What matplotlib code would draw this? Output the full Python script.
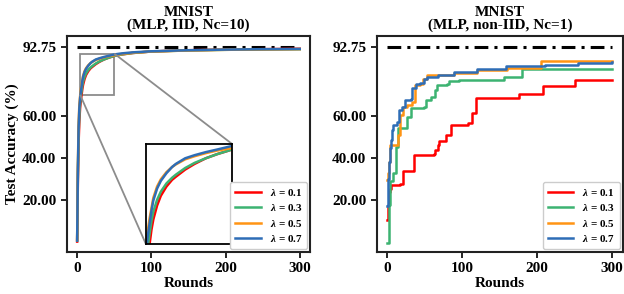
import numpy as np
import matplotlib
matplotlib.use("Agg")
from matplotlib import pyplot as plt
from mpl_toolkits.axes_grid1.inset_locator import mark_inset

plt.rcParams['font.family'] = ['Liberation Serif', 'DejaVu Serif']
plt.rcParams['font.weight'] = 'bold'
plt.rcParams['mathtext.fontset'] = 'custom'
plt.rcParams['mathtext.it'] = 'Liberation Serif:italic:bold'
plt.rcParams['mathtext.rm'] = 'Liberation Serif:bold'

# ---------------- data ----------------
lams = ['0.1', '0.3', '0.5', '0.7']
colors = ['#FF0000', '#3CB371', '#FF9414', '#2E6DB6']
target_acc = 92.75

# left: IID, Nc=10 (smooth curves)
iid_rounds = [0, 1, 2, 3, 4, 5, 6, 7, 8, 10, 12, 15, 18, 20, 25, 30, 36, 42, 50,
              60, 75, 100, 150, 200, 250, 300]
iid_acc = {
    '0.1': [0.5, 30, 48, 58, 64, 67.5, 70, 72.8, 74.8, 77.5, 79.4, 81.2, 82.5, 83.1,
            84.5, 85.6, 86.7, 87.5, 88.4, 89.1, 89.8, 90.5, 91.1, 91.4, 91.6, 91.8],
    '0.3': [1.0, 33, 52, 61, 66, 69.5, 72, 74.5, 76.3, 78.6, 80.2, 81.8, 82.9, 83.5,
            84.8, 85.8, 86.7, 87.5, 88.4, 89.1, 89.8, 90.5, 91.0, 91.3, 91.5, 91.6],
    '0.5': [1.5, 37, 57, 65.5, 69.5, 72.5, 75, 77, 79, 81.2, 82.6, 84.0, 85.0, 85.5,
            86.5, 87.1, 87.7, 88.2, 88.7, 89.3, 89.9, 90.5, 91.0, 91.3, 91.5, 91.6],
    '0.7': [1.0, 35, 55, 64, 68.5, 71.5, 74, 76.5, 78.5, 80.8, 82.3, 83.8, 85.0, 85.6,
            86.7, 87.3, 87.9, 88.4, 89.1, 89.6, 90.1, 90.6, 91.1, 91.4, 91.6, 91.7],
}

# right: non-IID, Nc=1 (best-so-far, step curves)
niid_rounds = {
    '0.1': [0, 1, 2, 4, 5, 17, 21, 34, 35, 62, 64, 67, 69, 78, 85, 108, 113, 118,
            176, 208, 250, 300],
    '0.3': [0, 2, 4, 7, 11, 12, 14, 24, 26, 31, 49, 51, 58, 63, 66, 80, 82, 96,
            152, 156, 179, 300],
    '0.5': [0, 1, 2, 4, 12, 14, 17, 21, 26, 33, 37, 44, 48, 53, 67, 89, 120, 160,
            205, 300],
    '0.7': [0, 1, 2, 3, 5, 6, 8, 13, 15, 20, 24, 31, 33, 38, 44, 49, 53, 67, 89,
            120, 158, 210, 247, 254, 300],
}
niid_acc = {
    '0.1': [10.5, 18, 24, 25.5, 27.5, 28, 33.7, 33.7, 41.7, 42, 44, 46, 48, 51, 55.8,
            56.7, 61.4, 68.5, 70.3, 74, 76.9, 76.9],
    '0.3': [0, 18, 29, 33.2, 42.6, 45.4, 54.3, 54.5, 59.7, 63.6, 64.4, 67.5, 69,
            72.5, 74.5, 75.3, 76.6, 76.9, 77.2, 78.5, 82.4, 82.4],
    '0.5': [29.5, 33, 38, 46.4, 46.4, 51, 60.5, 64.4, 65.2, 66.7, 74.6, 75.3, 77.7,
            79.2, 79.6, 80.3, 81.6, 82.9, 85.8, 85.8],
    '0.7': [17.4, 30, 38, 45, 48.7, 53.4, 55.8, 57.3, 62.8, 64.4, 67.5, 67.8, 73,
            75.3, 75.6, 77.7, 78.5, 79.2, 80.8, 82.4, 83.5, 83.9, 84.3, 85.0, 85.5],
}

yticks = [20, 40, 60, target_acc]
xticks = [0, 100, 200, 300]

fig = plt.figure(figsize=(6.24, 2.94), dpi=100)
ax1 = fig.add_axes([0.107, 0.143, 0.390, 0.735])
ax2 = fig.add_axes([0.604, 0.143, 0.394, 0.735])


def style(ax, title):
    ax.set_xlim(-14, 314)
    ax.set_ylim(-4.4, 97.9)
    ax.set_xticks(xticks)
    ax.set_yticks(yticks)
    ax.set_yticklabels(['%.2f' % v for v in yticks])
    ax.tick_params(labelsize=11, width=1.2, length=4)
    for s in ax.spines.values():
        s.set_linewidth(1.5)
        s.set_color('#222222')
    ax.set_title(title, fontsize=11, fontweight='bold', pad=5, linespacing=1.0)
    ax.set_xlabel('Rounds', fontsize=11, fontweight='bold', labelpad=1)
    ax.plot([0, 300], [target_acc, target_acc], color='black', lw=2.2,
            ls=(0, (4.5, 2, 1, 2)), zorder=1)
    ax.legend(loc='lower right', fontsize=8, handlelength=2.3,
              borderaxespad=0.25, labelspacing=0.4, framealpha=1,
              edgecolor='#cccccc', borderpad=0.45)


for lam, c in zip(lams, colors):
    ax1.plot(iid_rounds, iid_acc[lam], color=c, lw=1.8, label=r'$\lambda$ = ' + lam)
    ax2.plot(niid_rounds[lam], niid_acc[lam], color=c, lw=1.8,
             drawstyle='steps-post', label=r'$\lambda$ = ' + lam)

style(ax1, 'MNIST\n(MLP, IID, Nc=10)')
style(ax2, 'MNIST\n(MLP, non-IID, Nc=1)')
ax1.set_ylabel('Test Accuracy (%)', fontsize=11, fontweight='bold', labelpad=2)

# zoomed inset
axins = ax1.inset_axes([0.325, 0.037, 0.354, 0.463])
for lam, c in zip(lams, colors):
    axins.plot(iid_rounds, iid_acc[lam], color=c, lw=1.8)
axins.set_xlim(4, 50)
axins.set_ylim(70, 89.5)
axins.set_xticks([])
axins.set_yticks([])
for s in axins.spines.values():
    s.set_linewidth(1.3)
    s.set_color('black')
mark_inset(ax1, axins, loc1=1, loc2=3, fc='none', ec='0.55', lw=1.3)

fig.savefig('out.png', dpi=100)
